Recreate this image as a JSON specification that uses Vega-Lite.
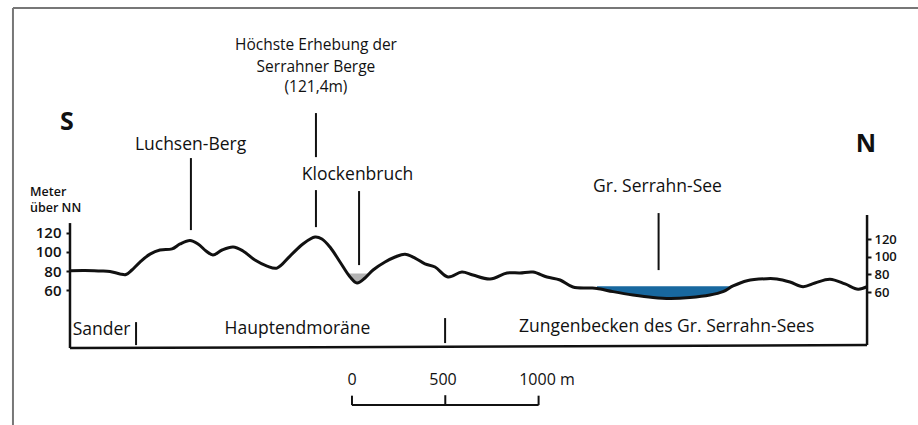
{
  "$schema": "https://vega.github.io/schema/vega-lite/v6.json",
  "width": 918,
  "height": 425,
  "autosize": {"type": "none"},
  "padding": 0,
  "background": "white",
  "config": {"view": {"stroke": null}, "text": {"font": "Open Sans", "color": "#111111", "baseline": "alphabetic"}},
  "datasets": {
    "profile": [
      {"x": 0, "y": 80.5}, {"x": 80, "y": 80.7}, {"x": 161, "y": 80.2}, {"x": 214, "y": 79.7},
      {"x": 268, "y": 77.1}, {"x": 300, "y": 76.5}, {"x": 332, "y": 81.2}, {"x": 375, "y": 89.5},
      {"x": 429, "y": 97.7}, {"x": 482, "y": 102}, {"x": 547, "y": 103.1}, {"x": 590, "y": 108.3},
      {"x": 643, "y": 111.9}, {"x": 686, "y": 108.3}, {"x": 729, "y": 101}, {"x": 766, "y": 96.8},
      {"x": 815, "y": 102}, {"x": 874, "y": 105.1}, {"x": 927, "y": 101}, {"x": 991, "y": 91.6},
      {"x": 1056, "y": 85.3}, {"x": 1109, "y": 83.2}, {"x": 1179, "y": 95.7}, {"x": 1248, "y": 108.3},
      {"x": 1313, "y": 115.5}, {"x": 1350, "y": 113.5}, {"x": 1393, "y": 105.1}, {"x": 1447, "y": 89.5},
      {"x": 1501, "y": 73.9}, {"x": 1538, "y": 67.7}, {"x": 1581, "y": 72.9}, {"x": 1624, "y": 81.2},
      {"x": 1688, "y": 89.5}, {"x": 1742, "y": 94.7}, {"x": 1795, "y": 97.7}, {"x": 1849, "y": 93.6},
      {"x": 1902, "y": 87.5}, {"x": 1956, "y": 84.3}, {"x": 2026, "y": 73.9}, {"x": 2100, "y": 79.1},
      {"x": 2159, "y": 76}, {"x": 2251, "y": 71.8}, {"x": 2342, "y": 78.1}, {"x": 2411, "y": 78.1},
      {"x": 2481, "y": 79.1}, {"x": 2556, "y": 73.9}, {"x": 2626, "y": 70.8}, {"x": 2695, "y": 63.5},
      {"x": 2786, "y": 62.5}, {"x": 2824, "y": 62}, {"x": 2910, "y": 58.7}, {"x": 3017, "y": 55.2},
      {"x": 3124, "y": 52.6}, {"x": 3215, "y": 51.6}, {"x": 3322, "y": 52.6}, {"x": 3429, "y": 55.2},
      {"x": 3499, "y": 58.7}, {"x": 3553, "y": 64.6}, {"x": 3628, "y": 70.1}, {"x": 3735, "y": 72.2},
      {"x": 3788, "y": 71.9}, {"x": 3858, "y": 68.7}, {"x": 3928, "y": 63.9}, {"x": 3992, "y": 67.7},
      {"x": 4072, "y": 71.6}, {"x": 4153, "y": 66.7}, {"x": 4223, "y": 61.2}, {"x": 4271, "y": 63.9}
    ],
    "lake": [
      {"x": 2824, "y": 62.5}, {"x": 2910, "y": 58.7}, {"x": 3017, "y": 55.2}, {"x": 3124, "y": 52.6},
      {"x": 3215, "y": 51.6}, {"x": 3322, "y": 52.6}, {"x": 3429, "y": 55.2}, {"x": 3499, "y": 58.7},
      {"x": 3553, "y": 64.2}
    ],
    "hollow": [
      {"x": 1490, "y": 75.5}, {"x": 1501, "y": 73.9}, {"x": 1538, "y": 67.7}, {"x": 1581, "y": 72.9}, {"x": 1600, "y": 76.5}
    ],
    "lines": [
      {"x": 648, "x2": 648, "y": 197.6, "y2": 122.7},
      {"x": 1318, "x2": 1318, "y": 244.4, "y2": 198.6},
      {"x": 1318, "x2": 1318, "y": 164.3, "y2": 125.8},
      {"x": 1549, "x2": 1549, "y": 163.3, "y2": 86.3},
      {"x": 3154, "x2": 3154, "y": 140.4, "y2": 81.1},
      {"x": 354, "x2": 354, "y": 27, "y2": 3.1},
      {"x": 2010, "x2": 2010, "y": 31.2, "y2": 5.2},
      {"x": 1511, "x2": 2511, "y": -59.3, "y2": -59.3},
      {"x": 1511, "x2": 1511, "y": -59.3, "y2": -49.5},
      {"x": 2011, "x2": 2011, "y": -59.3, "y2": -49},
      {"x": 2511, "x2": 2511, "y": -59.3, "y2": -49.5}
    ],
    "axislines": [
      {"x": 0, "x2": 0, "y": 0, "y2": 130},
      {"x": 0, "x2": 4271, "y": 0, "y2": 3.1}
    ],
    "frame": [
      {"x": -305.5, "x2": -305.5, "y": -80, "y2": 353.6},
      {"x": -305.5, "x2": 4544, "y": 353.6, "y2": 353.6}
    ],
    "labels": [
      {"t": "Luchsen-Berg", "x": 646, "y": 206},
      {"t": "Klockenbruch", "x": 1541, "y": 174.7},
      {"t": "Gr. Serrahn-See", "x": 3148, "y": 162.6},
      {"t": "Sander", "x": 169, "y": 13.5},
      {"t": "Hauptendmoräne", "x": 1219, "y": 14.6},
      {"t": "Zungenbecken des Gr. Serrahn-Sees", "x": 3197, "y": 16.6}
    ],
    "peak": [
      {"t": "Höchste Erhebung der", "x": 1318, "y": 309.9},
      {"t": "Serrahner Berge", "x": 1318, "y": 287.4},
      {"t": "(121,4m)", "x": 1318, "y": 265.9}
    ],
    "compass": [
      {"t": "S", "x": -16, "y": 226.7},
      {"t": "N", "x": 4265, "y": 203.8}
    ],
    "unit": [
      {"t": "Meter", "x": -214, "y": 158},
      {"t": "über NN", "x": -214, "y": 141.4}
    ],
    "scalebar": [
      {"t": "0", "x": 1511, "y": -38.5},
      {"t": "500", "x": 1999, "y": -38.5},
      {"t": "1000 m", "x": 2556, "y": -38.5}
    ],
    "rightaxis": [
      {"x": 4271, "x2": 4271, "y": 0, "y2": 147.2}
    ]
  },
  "layer": [
    {
      "encoding": {
        "x": {"field": "x", "type": "quantitative", "scale": {"domain": [-375, 4544], "nice": false, "zero": false}, "axis": null},
        "y": {"field": "y", "type": "quantitative", "scale": {"domain": [-80, 362], "nice": false, "zero": false},
          "axis": {"orient": "left", "offset": -70, "values": [60, 80, 100, 120], "domain": false, "grid": false,
            "tickSize": 4, "tickWidth": 2, "tickColor": "#111111", "labelFont": "Open Sans", "labelFontSize": 15,
            "labelFontWeight": 600, "labelColor": "#111111", "labelPadding": 5, "title": null}}
      },
      "layer": [
        {"data": {"name": "frame"}, "mark": {"type": "rule", "color": "#777777", "strokeWidth": 2},
          "encoding": {"x2": {"field": "x2"}, "y2": {"field": "y2"}}},
        {"data": {"name": "lake"}, "mark": {"type": "area", "color": "#18689f", "interpolate": "catmull-rom"},
          "encoding": {"y2": {"datum": 64.2}}},
        {"data": {"name": "hollow"}, "mark": {"type": "area", "color": "#b3b3b3", "interpolate": "catmull-rom"},
          "encoding": {"y2": {"datum": 77.5}}},
        {"data": {"name": "profile"}, "mark": {"type": "line", "color": "#111111", "strokeWidth": 3, "interpolate": "catmull-rom"},
          "encoding": {}},
        {"data": {"name": "lines"}, "mark": {"type": "rule", "color": "#111111", "strokeWidth": 2},
          "encoding": {"x2": {"field": "x2"}, "y2": {"field": "y2"}}},
        {"data": {"name": "axislines"}, "mark": {"type": "rule", "color": "#111111", "strokeWidth": 2.5},
          "encoding": {"x2": {"field": "x2"}, "y2": {"field": "y2"}}},
        {"data": {"name": "labels"}, "mark": {"type": "text", "fontSize": 17.5, "align": "center"},
          "encoding": {"text": {"field": "t"}}},
        {"data": {"name": "peak"}, "mark": {"type": "text", "fontSize": 15.5, "align": "center"},
          "encoding": {"text": {"field": "t"}}},
        {"data": {"name": "compass"}, "mark": {"type": "text", "fontSize": 25, "fontWeight": "bold", "align": "center"},
          "encoding": {"text": {"field": "t"}}},
        {"data": {"name": "unit"}, "mark": {"type": "text", "fontSize": 12.5, "fontWeight": 600, "align": "left"},
          "encoding": {"text": {"field": "t"}}},
        {"data": {"name": "scalebar"}, "mark": {"type": "text", "fontSize": 16, "align": "center"},
          "encoding": {"text": {"field": "t"}}}
      ]
    },
    {
      "data": {"name": "rightaxis"},
      "mark": {"type": "rule", "color": "#111111", "strokeWidth": 2.5},
      "encoding": {
        "x": {"field": "x", "type": "quantitative", "scale": {"domain": [-375, 4544], "nice": false, "zero": false}, "axis": null},
        "x2": {"field": "x2"},
        "y": {"field": "y", "type": "quantitative", "scale": {"domain": [-90.6, 390.7], "nice": false, "zero": false},
          "axis": {"orient": "right", "offset": -51, "values": [60, 80, 100, 120], "domain": false, "grid": false,
            "tickSize": 4, "tickWidth": 2, "tickColor": "#111111", "labelFont": "Open Sans", "labelFontSize": 13,
            "labelFontWeight": 600, "labelColor": "#111111", "labelPadding": 3, "title": null}},
        "y2": {"field": "y2"}
      }
    }
  ],
  "resolve": {"scale": {"y": "independent"}, "axis": {"y": "independent"}}
}
